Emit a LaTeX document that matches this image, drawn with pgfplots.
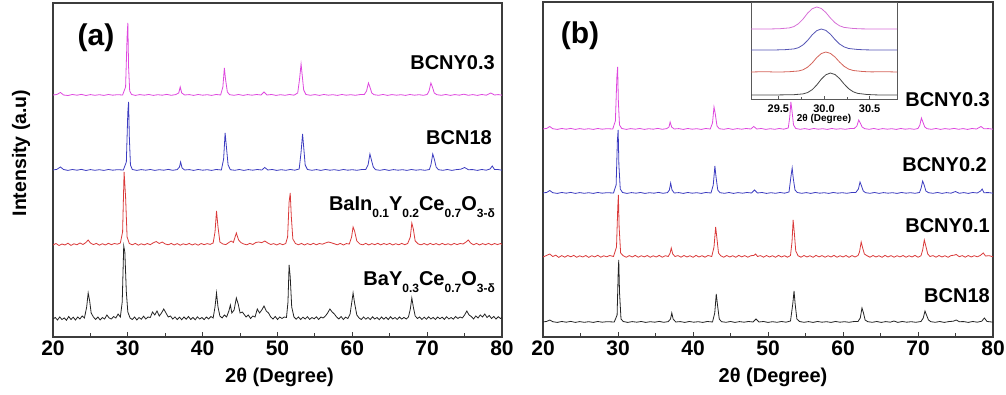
\documentclass[border=0pt]{standalone}
\usepackage{pgfplots}
\pgfplotsset{compat=1.18}
\usepackage{fontspec}
\setmainfont{Liberation Sans}
\definecolor{cpink}{RGB}{222,72,222}
\definecolor{cblue}{RGB}{60,60,192}
\definecolor{cred}{RGB}{218,58,58}
\definecolor{cblack}{RGB}{35,35,35}
\definecolor{cframe}{RGB}{60,60,60}
\definecolor{ipink}{RGB}{214,110,214}
\definecolor{iblue}{RGB}{85,85,180}
\definecolor{ired}{RGB}{212,100,90}
\definecolor{iblack}{RGB}{70,70,70}
\newcommand\sub[1]{\raisebox{-7pt}{\fontsize{12}{12}\selectfont #1}}
\pgfplotsset{
  mainax/.style={scale only axis, anchor=south west,
    xmin=20, xmax=80, ymin=0, ymax=334,
    xtick={20,30,...,80}, minor xtick={25,35,...,75}, ytick=\empty,
    xtick pos=bottom, tick align=inside,
    major tick length=5pt, minor tick length=4pt,
    axis line style={cframe, line width=1.1pt},
    every tick/.style={cframe, line width=1pt},
    /pgf/number format/assume math mode=true,
    tick label style={font=\fontsize{21}{21}\selectfont\bfseries},
    xlabel style={font=\fontsize{20}{20}\selectfont\bfseries, at={(axis description cs:0.5,0)}, anchor=center, yshift=-40pt},
    xlabel={2θ (Degree)},
    every axis plot/.append style={line width=0.8pt, mark=none}},
}
\begin{document}
\begin{tikzpicture}
\useasboundingbox (0,0) rectangle (1006pt,395pt);
% ---------------- panel (a)
\begin{axis}[mainax, at={(53pt,58pt)}, width=449pt, height=334pt, xlabel style={xshift=2pt}]
\addplot[cpink] coordinates {(20,242)(20.5,242.5)(21,244.5)(21.4,242)(22,241.5)(22.6,242.5)(23.2,241.8)(23.8,242.6)(24.4,241.5)(25,242.4)(25.6,241.7)(26.2,242.3)(26.8,241.6)(27.4,242.5)(28,241.8)(28.6,242.3)(29.3,242)(29.7,250)(29.9,300)(30,314)(30.1,270)(30.25,246)(30.5,242.5)(31,241.6)(31.6,242.4)(32.2,241.8)(32.8,242.5)(33.4,241.6)(34,242.3)(34.6,241.8)(35.2,242.6)(35.8,241.7)(36.4,242.4)(36.8,244)(37,250)(37.2,244)(37.6,242)(38.2,242.4)(38.8,241.6)(39.4,242.5)(40,241.8)(40.6,242.3)(41.2,241.6)(41.8,242.5)(42.4,242)(42.7,250)(42.9,269)(43.05,258)(43.3,245)(43.6,242.3)(44.2,241.7)(44.8,242.5)(45.4,241.6)(46,242.4)(46.6,241.8)(47.2,242.5)(47.8,242)(48.2,245)(48.6,242)(49.2,242.5)(49.8,241.6)(50.4,242.3)(51,241.7)(51.6,242.5)(52.2,241.8)(52.7,244)(52.95,258)(53.15,273)(53.3,262)(53.5,247)(53.8,242.5)(54.4,241.7)(55,242.4)(55.6,241.6)(56.2,242.5)(56.8,241.8)(57.4,242.3)(58,241.6)(58.6,242.5)(59.2,241.8)(59.8,242.3)(60.4,241.7)(61,242.4)(61.6,242.5)(61.9,246)(62.15,254)(62.35,250)(62.6,244)(62.9,242.3)(63.5,241.7)(64.1,242.5)(64.7,241.6)(65.3,242.4)(65.9,241.8)(66.5,242.3)(67.1,241.6)(67.7,242.5)(68.3,241.8)(68.9,242.3)(69.5,241.7)(70,242.5)(70.25,246)(70.5,254)(70.7,250)(70.95,244)(71.3,242.3)(71.9,241.7)(72.5,242.5)(73.1,241.6)(73.7,242.4)(74.3,241.8)(74.9,242.8)(75.5,241.7)(76.1,242.4)(76.7,241.6)(77.3,242.5)(77.9,241.8)(78.5,244)(79,242)(79.5,242.4)(80,241.8)};
\addplot[cblue] coordinates {(20,167)(20.5,167.6)(21,170)(21.4,167.5)(22,166.6)(22.6,167.5)(23.2,166.8)(23.8,167.6)(24.4,166.5)(25,167.4)(25.6,166.7)(26.2,167.3)(26.8,166.6)(27.4,167.5)(28,166.8)(28.6,167.3)(29.4,167)(29.8,175)(30,225)(30.1,235)(30.2,200)(30.35,172)(30.6,167.5)(31.2,166.6)(31.8,167.4)(32.4,166.8)(33,167.5)(33.6,166.6)(34.2,167.3)(34.8,166.8)(35.4,167.6)(36,166.7)(36.6,167.4)(36.9,170)(37.05,175)(37.25,169)(37.6,167)(38.2,167.4)(38.8,166.6)(39.4,167.5)(40,166.8)(40.6,167.3)(41.2,166.6)(41.8,167.5)(42.5,167)(42.8,178)(43,204)(43.15,192)(43.4,172)(43.7,167.3)(44.3,166.7)(44.9,167.5)(45.5,166.6)(46.1,167.4)(46.7,166.8)(47.3,167.5)(47.9,167)(48.3,169.5)(48.7,167)(49.3,167.5)(49.9,166.6)(50.5,167.3)(51.1,166.7)(51.7,167.5)(52.3,166.8)(52.9,168)(53.15,185)(53.35,203)(53.5,190)(53.7,172)(54,167.5)(54.6,166.7)(55.2,167.4)(55.8,166.6)(56.4,167.5)(57,166.8)(57.6,167.3)(58.2,166.6)(58.8,167.5)(59.4,166.8)(60,167.3)(60.6,166.7)(61.2,167.4)(61.8,167.5)(62.1,172)(62.35,183)(62.55,177)(62.8,170)(63.1,167.3)(63.7,166.7)(64.3,167.5)(64.9,166.6)(65.5,167.4)(66.1,166.8)(66.7,167.3)(67.3,166.6)(67.9,167.5)(68.5,166.8)(69.1,167.3)(69.7,166.7)(70.3,167.5)(70.5,172)(70.75,183)(70.95,178)(71.2,170)(71.5,167.3)(72.1,166.7)(72.7,167.5)(73.3,166.6)(73.9,167.4)(74.5,167.8)(75,169.5)(75.5,167.3)(76.1,167.4)(76.7,166.6)(77.3,167.5)(77.9,166.8)(78.4,168)(78.7,171)(79,167.5)(79.5,167.4)(80,166.8)};
\addplot[cred] coordinates {(20,92)(20.4,93.5)(20.8,91.5)(21.2,93)(21.6,92)(22,93.8)(22.4,91.6)(22.8,93.2)(23.2,92.2)(23.6,94)(24,92.5)(24.4,94.5)(24.7,97)(25,94)(25.4,92.4)(25.8,93.6)(26.2,91.8)(26.6,93.3)(27,92)(27.4,93.7)(27.8,92.3)(28.2,93.5)(28.6,92.8)(29,94)(29.3,105)(29.5,165)(29.7,140)(29.9,100)(30.2,93.5)(30.6,92.2)(31,93.6)(31.4,91.8)(31.8,93.2)(32.2,92.1)(32.6,93.5)(33,92.3)(33.4,94.2)(33.8,95.5)(34.2,93.5)(34.6,95)(35,93)(35.4,92.2)(35.8,93.6)(36.2,92)(36.6,93.4)(37,91.8)(37.4,93.2)(37.8,92.2)(38.2,93.6)(38.6,92)(39,93.3)(39.4,91.8)(39.8,93.5)(40.2,92.3)(40.6,93.4)(41,92.6)(41.4,94)(41.65,105)(41.85,126)(42.05,110)(42.3,95)(42.7,93)(43.1,92.4)(43.5,94.5)(43.8,96)(44.1,94.5)(44.5,104)(44.8,97)(45.1,94.5)(45.5,93)(45.9,92.2)(46.3,93.6)(46.7,92.5)(47.1,94.5)(47.5,95)(47.9,94.3)(48.3,96)(48.7,94)(49.1,92.5)(49.5,93.4)(49.9,92)(50.3,93.5)(50.7,92.3)(51.1,93.5)(51.35,100)(51.55,135)(51.7,144)(51.85,120)(52.05,98)(52.4,93.5)(52.8,92.2)(53.2,93.6)(53.6,92)(54,93.4)(54.4,92.3)(54.8,93.7)(55.2,92.2)(55.6,93.5)(56,92.8)(56.4,94)(56.8,95)(57.2,94.2)(57.6,93.2)(58,92.2)(58.4,93.6)(58.8,92)(59.2,93.4)(59.6,93)(59.9,100)(60.1,110)(60.3,106)(60.6,96)(61,93)(61.4,92.2)(61.8,93.6)(62.2,92)(62.6,93.4)(63,92.3)(63.4,93.7)(63.8,92.1)(64.2,93.5)(64.6,92.4)(65,93.6)(65.4,92)(65.8,93.3)(66.2,92.2)(66.6,93.6)(67,92.3)(67.4,93.5)(67.75,100)(67.95,114)(68.15,108)(68.4,96)(68.8,93)(69.2,92.2)(69.6,93.5)(70,92)(70.4,93.6)(70.8,92.3)(71.2,93.4)(71.6,92.1)(72,93.6)(72.4,92.2)(72.8,93.3)(73.2,92)(73.6,93.6)(74,92.4)(74.4,93.5)(74.8,93)(75.2,95)(75.5,97)(75.8,94)(76.2,92.2)(76.6,93.6)(77,92)(77.4,93.4)(77.8,92.3)(78.2,93.6)(78.6,92.1)(79,93.5)(79.4,92.4)(79.8,93.5)(80,92.5)};
\addplot[cblack] coordinates {(20,18)(20.3,19.5)(20.6,17)(20.9,20)(21.2,17.5)(21.5,19)(21.8,16.8)(22.1,20.5)(22.4,17.5)(22.7,19.8)(23,17)(23.3,20)(23.6,18)(23.9,21)(24.2,19)(24.5,30)(24.7,44)(24.9,36)(25.1,24)(25.4,20)(25.7,17.5)(26,20)(26.3,17)(26.6,19.5)(26.9,18)(27.2,22)(27.5,19)(27.8,18)(28.1,20.5)(28.4,19)(28.7,23)(29,20)(29.25,35)(29.45,91)(29.6,85)(29.8,45)(30,25)(30.3,19)(30.6,17.5)(30.9,20)(31.2,17)(31.5,19.5)(31.8,17.8)(32.1,20.8)(32.4,18)(32.7,20)(33,19.5)(33.3,25)(33.6,22)(33.9,26)(34.2,21)(34.5,24)(34.8,28)(35.1,24)(35.4,20)(35.7,21)(36,18)(36.3,20)(36.6,17.5)(36.9,19.8)(37.2,17.3)(37.5,20)(37.8,17.8)(38.1,20.5)(38.4,17.5)(38.7,19.6)(39,17.2)(39.3,20.2)(39.6,18)(39.9,19.5)(40.2,17.4)(40.5,20)(40.8,18)(41.1,20.5)(41.4,19)(41.65,30)(41.85,44)(42.05,30)(42.3,21)(42.6,19)(42.9,22)(43.2,20)(43.5,26)(43.7,32)(43.9,24)(44.2,27)(44.5,39)(44.75,33)(45,24)(45.3,25)(45.5,23)(45.8,20)(46.1,22)(46.4,18.5)(46.7,21)(47,20)(47.3,28)(47.6,24)(47.9,27)(48.2,31)(48.5,26)(48.8,24)(49.1,20)(49.4,18)(49.7,20.5)(50,17.5)(50.3,20)(50.6,18.5)(50.9,20)(51.2,19.5)(51.4,35)(51.55,72)(51.7,60)(51.9,30)(52.2,20)(52.5,17.8)(52.8,20)(53.1,17.5)(53.4,19.8)(53.7,18)(54,20.3)(54.3,17.6)(54.6,19.5)(54.9,18.2)(55.2,20.2)(55.5,17.5)(55.8,20)(56.1,19)(56.4,21)(56.7,24)(57,28)(57.3,25)(57.6,23)(57.9,20)(58.2,18)(58.5,20.5)(58.8,17.5)(59.1,19.8)(59.4,18.5)(59.7,23)(59.95,36)(60.1,44)(60.3,34)(60.6,22)(60.9,19)(61.2,17.5)(61.5,20)(61.8,17.8)(62.1,19.6)(62.4,17.4)(62.7,20.2)(63,18)(63.3,19.5)(63.6,17.3)(63.9,20)(64.2,17.8)(64.5,19.8)(64.8,17.5)(65.1,20.3)(65.4,18)(65.7,19.5)(66,17.6)(66.3,20)(66.6,17.9)(66.9,19.6)(67.2,18)(67.5,20)(67.75,28)(67.95,39)(68.15,30)(68.4,21)(68.7,18.5)(69,20)(69.3,17.5)(69.6,19.8)(69.9,17.8)(70.2,20.2)(70.5,18)(70.8,19.6)(71.1,17.5)(71.4,20)(71.7,18.2)(72,19.8)(72.3,17.6)(72.6,20.3)(72.9,18)(73.2,19.5)(73.5,17.8)(73.8,20.5)(74.1,18.5)(74.4,20)(74.7,19)(75,22)(75.3,26)(75.6,22)(75.9,20.5)(76.2,18)(76.5,21)(76.8,19)(77.1,22)(77.4,20)(77.7,23)(78,19.5)(78.3,21.5)(78.6,18.5)(78.9,20.5)(79.2,18)(79.5,20.3)(79.8,18.5)(80,19.5)};
\end{axis}
% ---------------- panel (b)
\begin{axis}[mainax, at={(543pt,58pt)}, width=450pt, height=335pt, ymax=335, xlabel style={xshift=5pt}]
\addplot[cpink] coordinates {(20,208)(20.5,208.6)(20.9,210.5)(21.3,208.3)(21.9,207.6)(22.5,208.5)(23.1,207.8)(23.7,208.6)(24.3,207.6)(24.9,208.4)(25.5,207.7)(26.1,208.3)(26.7,207.6)(27.3,208.5)(27.9,207.8)(28.5,208.3)(29.3,208)(29.65,216)(29.85,260)(29.95,270)(30.05,235)(30.2,212)(30.5,208.5)(31.1,207.6)(31.7,208.4)(32.3,207.8)(32.9,208.5)(33.5,207.6)(34.1,208.3)(34.7,207.8)(35.3,208.6)(35.9,207.7)(36.5,208.4)(36.8,210)(36.95,215)(37.15,210)(37.5,208)(38.1,208.4)(38.7,207.6)(39.3,208.5)(39.9,207.8)(40.5,208.3)(41.1,207.6)(41.7,208.5)(42.3,208)(42.6,214)(42.8,230)(42.95,224)(43.2,211)(43.5,208.3)(44.1,207.7)(44.7,208.5)(45.3,207.6)(45.9,208.4)(46.5,207.8)(47.1,208.5)(47.7,208)(48.1,210.5)(48.5,208)(49.1,208.5)(49.7,207.6)(50.3,208.3)(50.9,207.7)(51.5,208.5)(52.1,207.8)(52.7,209)(52.9,220)(53.05,235)(53.2,226)(53.4,212)(53.7,208.5)(54.3,207.7)(54.9,208.4)(55.5,207.6)(56.1,208.5)(56.7,207.8)(57.3,208.3)(57.9,207.6)(58.5,208.5)(59.1,207.8)(59.7,208.3)(60.3,207.7)(60.9,208.4)(61.5,208.5)(61.85,211)(62.1,217)(62.3,214)(62.55,210)(62.9,208.3)(63.5,207.7)(64.1,208.5)(64.7,207.6)(65.3,208.4)(65.9,207.8)(66.5,208.3)(67.1,207.6)(67.7,208.5)(68.3,207.8)(68.9,208.3)(69.5,207.7)(70,208.5)(70.25,212)(70.45,219)(70.65,215)(70.9,210)(71.2,208.3)(71.8,207.7)(72.4,208.5)(73,207.6)(73.6,208.4)(74.2,207.8)(74.8,208.6)(75.4,207.7)(76,208.4)(76.6,207.6)(77.2,208.5)(77.8,208)(78.4,210.5)(78.8,208.2)(79.4,208.4)(80,207.8)};
\addplot[cblue] coordinates {(20,144)(20.5,144.6)(20.9,146.5)(21.3,144.3)(21.9,143.6)(22.5,144.5)(23.1,143.8)(23.7,144.6)(24.3,143.6)(24.9,144.4)(25.5,143.7)(26.1,144.3)(26.7,143.6)(27.3,144.5)(27.9,143.8)(28.5,144.3)(29.4,144)(29.75,152)(29.92,197)(30.02,207)(30.12,172)(30.3,148)(30.6,144.5)(31.2,143.6)(31.8,144.4)(32.4,143.8)(33,144.5)(33.6,143.6)(34.2,144.3)(34.8,143.8)(35.4,144.6)(36,143.7)(36.6,144.4)(36.85,147)(37.02,154)(37.2,147)(37.5,144)(38.1,144.4)(38.7,143.6)(39.3,144.5)(39.9,143.8)(40.5,144.3)(41.1,143.6)(41.7,144.5)(42.4,144)(42.7,152)(42.92,171)(43.07,160)(43.3,147)(43.6,144.3)(44.2,143.7)(44.8,144.5)(45.4,143.6)(46,144.4)(46.6,143.8)(47.2,144.5)(47.8,144)(48.2,147)(48.6,144)(49.2,144.5)(49.8,143.6)(50.4,144.3)(51,143.7)(51.6,144.5)(52.2,143.8)(52.8,145)(53.05,160)(53.22,169)(53.38,158)(53.6,147)(53.9,144.5)(54.5,143.7)(55.1,144.4)(55.7,143.6)(56.3,144.5)(56.9,143.8)(57.5,144.3)(58.1,143.6)(58.7,144.5)(59.3,143.8)(59.9,144.3)(60.5,143.7)(61.1,144.4)(61.7,144.5)(62.05,148)(62.27,155)(62.47,151)(62.7,146)(63,144.3)(63.6,143.7)(64.2,144.5)(64.8,143.6)(65.4,144.4)(66,143.8)(66.6,144.3)(67.2,143.6)(67.8,144.5)(68.4,143.8)(69,144.3)(69.6,143.7)(70.2,144.5)(70.42,149)(70.62,156)(70.82,152)(71.05,146)(71.4,144.3)(72,143.7)(72.6,144.5)(73.2,143.6)(73.8,144.4)(74.4,143.8)(75,145.5)(75.5,143.7)(76.1,144.4)(76.7,143.6)(77.3,144.5)(77.9,144)(78.35,146)(78.55,148)(78.8,144.3)(79.4,144.4)(80,143.8)};
\addplot[cred] coordinates {(20,80)(20.4,81.3)(20.9,83)(21.3,80.5)(21.7,81.8)(22.1,79.6)(22.5,81.4)(22.9,79.8)(23.3,81.5)(23.7,80.2)(24.1,81.6)(24.5,79.7)(24.9,81.2)(25.3,80)(25.7,81.5)(26.1,79.6)(26.5,81.3)(26.9,80.1)(27.3,81.7)(27.7,79.8)(28.1,81.2)(28.5,80.2)(28.9,81.5)(29.4,80.5)(29.8,90)(29.97,130)(30.05,142)(30.15,110)(30.35,84)(30.7,81.2)(31.1,79.7)(31.5,81.4)(31.9,80)(32.3,81.6)(32.7,79.8)(33.1,81.3)(33.5,80.1)(33.9,81.5)(34.3,79.7)(34.7,81.2)(35.1,80)(35.5,81.6)(35.9,79.8)(36.3,81.3)(36.7,80.5)(36.95,84)(37.1,89)(37.3,83)(37.6,80.5)(38,81.4)(38.4,79.8)(38.8,81.5)(39.2,80)(39.6,81.3)(40,79.7)(40.4,81.6)(40.8,80)(41.2,81.3)(41.6,79.8)(42,81.5)(42.5,80.5)(42.8,90)(43.02,110)(43.17,100)(43.4,84)(43.7,81.2)(44.1,79.8)(44.5,81.5)(44.9,80)(45.3,81.3)(45.7,79.7)(46.1,81.6)(46.5,80.1)(46.9,81.4)(47.3,79.8)(47.7,81.3)(48.1,81.5)(48.35,83)(48.6,80.5)(49,81.4)(49.4,79.8)(49.8,81.5)(50.2,80)(50.6,81.3)(51,79.7)(51.4,81.6)(51.8,80)(52.2,81.3)(52.6,79.8)(53,81.5)(53.2,95)(53.35,117)(53.5,105)(53.7,86)(54,81.3)(54.4,79.8)(54.8,81.5)(55.2,80)(55.6,81.3)(56,79.7)(56.4,81.6)(56.8,80.1)(57.2,81.4)(57.6,79.8)(58,81.3)(58.4,80)(58.8,81.6)(59.2,79.8)(59.6,81.3)(60,80)(60.4,81.5)(60.8,79.7)(61.2,81.4)(61.6,80)(62,81.5)(62.2,85)(62.42,95)(62.62,89)(62.85,83)(63.2,81.3)(63.6,79.8)(64,81.5)(64.4,80)(64.8,81.3)(65.2,79.7)(65.6,81.6)(66,80)(66.4,81.4)(66.8,79.8)(67.2,81.3)(67.6,80.1)(68,81.5)(68.4,79.8)(68.8,81.3)(69.2,80)(69.6,81.6)(70,79.8)(70.4,81.3)(70.62,87)(70.84,97)(71.04,91)(71.3,83)(71.6,80.5)(72,81.4)(72.4,79.8)(72.8,81.5)(73.2,80)(73.6,81.3)(74,79.7)(74.4,81.4)(74.8,81.8)(75.1,82.5)(75.5,80.3)(75.9,81.4)(76.3,79.8)(76.7,81.5)(77.1,80)(77.5,81.3)(77.9,80.2)(78.3,81.5)(78.7,84)(79,81)(79.5,81.3)(80,80.2)};
\addplot[cblack] coordinates {(20,15)(20.5,15.6)(20.9,17)(21.3,15.3)(21.9,14.6)(22.5,15.5)(23.1,14.8)(23.7,15.6)(24.3,14.6)(24.9,15.4)(25.5,14.7)(26.1,15.3)(26.7,14.6)(27.3,15.5)(27.9,14.8)(28.5,15.3)(29.5,15)(29.88,22)(30.03,66)(30.1,77)(30.2,45)(30.4,18)(30.7,15.5)(31.3,14.6)(31.9,15.4)(32.5,14.8)(33.1,15.5)(33.7,14.6)(34.3,15.3)(34.9,14.8)(35.5,15.6)(36.1,14.7)(36.7,15.4)(37,18)(37.17,24)(37.35,18)(37.7,15)(38.3,15.4)(38.9,14.6)(39.5,15.5)(40.1,14.8)(40.7,15.3)(41.3,14.6)(41.9,15.5)(42.6,15)(42.9,24)(43.1,43)(43.25,33)(43.5,18)(43.8,15.3)(44.4,14.7)(45,15.5)(45.6,14.6)(46.2,15.4)(46.8,14.8)(47.4,15.5)(48,15)(48.4,18)(48.8,15)(49.4,15.5)(50,14.6)(50.6,15.3)(51.2,14.7)(51.8,15.5)(52.4,14.8)(53,16)(53.3,33)(53.47,46)(53.62,33)(53.85,18)(54.2,15.5)(54.8,14.7)(55.4,15.4)(56,14.6)(56.6,15.5)(57.2,14.8)(57.8,15.3)(58.4,14.6)(59,15.5)(59.6,14.8)(60.2,15.3)(60.8,14.7)(61.4,15.4)(62,15.5)(62.3,19)(62.53,29)(62.73,24)(62.95,17)(63.3,15.3)(63.9,14.7)(64.5,15.5)(65.1,14.6)(65.7,15.4)(66.3,14.8)(66.8,16)(67.3,14.6)(67.9,15.5)(68.5,14.8)(69.1,15.3)(69.7,14.7)(70.4,15.5)(70.7,19)(70.93,26)(71.13,22)(71.4,17)(71.7,15.3)(72.3,14.7)(72.9,15.5)(73.5,14.6)(74.1,15.4)(74.7,15.8)(75.1,17)(75.5,15.3)(76.1,15.4)(76.7,14.6)(77.3,15.5)(77.9,14.8)(78.5,15.8)(78.85,19)(79.2,15.5)(79.6,15.2)(80,14.8)};
\end{axis}
% ---------------- inset
\begin{axis}[scale only axis, anchor=south west, at={(751pt,296pt)}, width=146pt, height=97pt,
  xmin=29.2, xmax=30.8, ymin=0, ymax=97,
  xtick={29.5,30,30.5}, xticklabels={29.5,30.0,30.5}, minor x tick num=1, ytick=\empty,
  xtick pos=bottom, tick align=inside, major tick length=3pt, minor tick length=2pt,
  axis line style={gray!70!black, line width=0.8pt},
  every tick/.style={gray!70!black, line width=0.6pt},
  tick label style={font=\fontsize{11}{11}\selectfont\bfseries},
  xticklabel style={yshift=-2pt},
  xlabel={2θ (Degree)},
  xlabel style={font=\fontsize{10}{10}\selectfont\bfseries, at={(axis description cs:0.5,0)}, anchor=center, yshift=-20pt},
  every axis plot/.append style={line width=0.8pt, mark=none}]
\addplot[ipink] coordinates {(29.2,70)(29.4,70)(29.52,70.3)(29.62,71.1)(29.67,72.4)(29.72,75.3)(29.77,79.9)(29.82,85.8)(29.87,90.2)(29.92,92)(29.97,90.5)(30.02,86.5)(30.07,81)(30.12,76.3)(30.17,73.2)(30.22,71.6)(30.32,70.5)(30.42,70.1)(30.6,70)(30.8,70)};
\addplot[iblue] coordinates {(29.2,49)(29.45,49)(29.57,49.3)(29.67,50.05)(29.72,51.3)(29.77,54.1)(29.82,58.5)(29.87,64.1)(29.92,68.3)(29.97,70)(30.02,68.6)(30.07,64.8)(30.12,59.5)(30.17,55)(30.22,52.1)(30.27,50.5)(30.37,49.5)(30.47,49.1)(30.65,49)(30.8,49)};
\addplot[ired] coordinates {(29.2,27)(29.35,27.3)(29.5,26.9)(29.62,27.3)(29.72,28)(29.77,29.2)(29.82,31.8)(29.87,36)(29.92,41.4)(29.97,45.4)(30.02,47)(30.07,45.6)(30.12,42)(30.17,37)(30.22,32.7)(30.27,29.9)(30.32,28.5)(30.42,27.5)(30.52,27.1)(30.65,27.3)(30.8,27)};
\addplot[iblack] coordinates {(29.2,4)(29.45,4)(29.67,4.3)(29.77,5.1)(29.82,6.4)(29.87,9.3)(29.92,13.9)(29.97,19.8)(30.02,24.2)(30.07,26)(30.12,24.5)(30.17,20.5)(30.22,15)(30.27,10.3)(30.32,7.2)(30.37,5.6)(30.47,4.5)(30.57,4.1)(30.7,4)(30.8,4)};
\end{axis}
% ---------------- text
\node[font=\fontsize{30}{30}\selectfont\bfseries] at (96pt,357pt) {(a)};
\node[font=\fontsize{30}{30}\selectfont\bfseries] at (580pt,359pt) {(b)};
\node[font=\fontsize{19.5}{19.5}\selectfont\bfseries, rotate=90] at (21pt,242pt) {Intensity (a.u)};
\begin{scope}[every node/.style={font=\fontsize{20}{20}\selectfont\bfseries, anchor=base east, inner sep=0pt}]
\node at (495pt,325pt) {BCNY0.3};
\node at (492pt,250pt) {BCN18};
\node at (495pt,184pt) {BaIn\sub{0.1}Y\sub{0.2}Ce\sub{0.7}O\sub{3-δ}};
\node at (495pt,109pt) {BaY\sub{0.3}Ce\sub{0.7}O\sub{3-δ}};
\node at (990pt,288pt) {BCNY0.3};
\node at (987pt,223pt) {BCNY0.2};
\node at (990pt,162pt) {BCNY0.1};
\node at (990pt,92pt) {BCN18};
\end{scope}
\end{tikzpicture}
\end{document}
